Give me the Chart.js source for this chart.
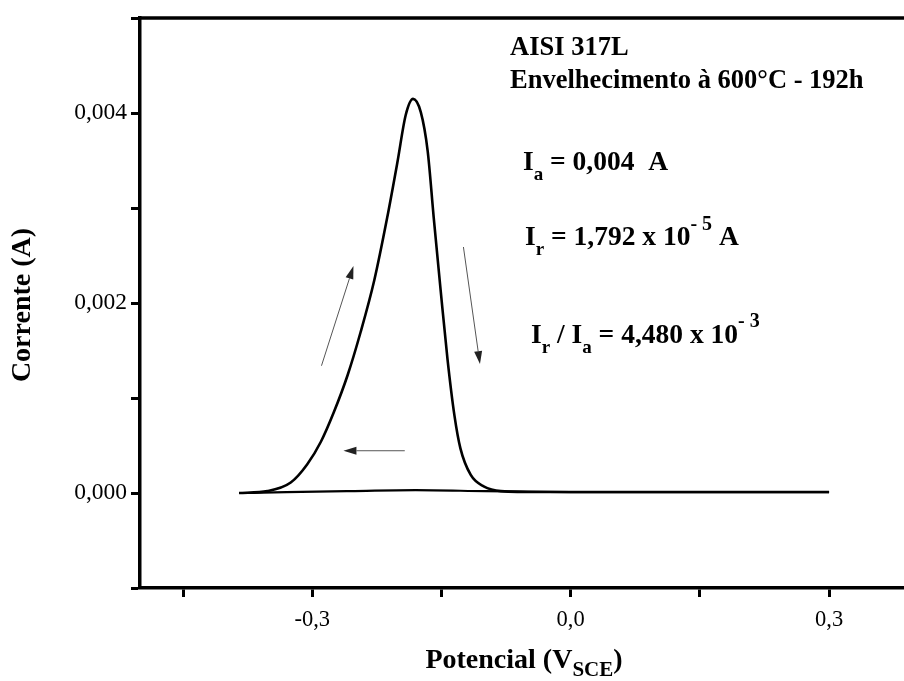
<!DOCTYPE html>
<html>
<head>
<meta charset="utf-8">
<script src="https://cdn.jsdelivr.net/npm/chart.js@4.4.1/dist/chart.umd.min.js"></script>
<style>
  html, body { margin: 0; padding: 0; background: #fff; }
</style>
</head>
<body>
<canvas id="chart" width="904" height="681"></canvas>
<script>
// potentiodynamic curve (V_SCE, A)
const forwardPotential = [-0.385, -0.352, -0.325, -0.306, -0.290, -0.275, -0.259, -0.244, -0.228, -0.213, -0.201, -0.1915, -0.183, -0.174, -0.166, -0.159, -0.151, -0.143, -0.135, -0.128, -0.116, -0.101, -0.081, -0.035, 0.05, 0.15, 0.30];
const forwardCurrent = [0.0, 0.00002, 0.00011, 0.00030, 0.00054, 0.00085, 0.00124, 0.00169, 0.00224, 0.00290, 0.00349, 0.00398, 0.00415, 0.00401, 0.00360, 0.00290, 0.00214, 0.00141, 0.00082, 0.00047, 0.00019, 0.00007, 0.00002, 0.00001, 0.00001, 0.00001, 0.00001];
const reversePotential = [0.30, 0.15, 0.0, -0.10, -0.18, -0.26, -0.33, -0.385];
const reverseCurrent = [0.00001, 0.00001, 0.00001, 0.00002, 0.00003, 0.00002, 0.00001, 0.0];

const xMajorTicks = [-0.3, 0.0, 0.3];
const yMajorTicks = [0.0, 0.002, 0.004];

// scan direction arrows (start / end, data units)
const arrowStart = [[-0.2893, 0.00134], [-0.1245, 0.00259], [-0.1926, 0.000445]];
const arrowEnd = [[-0.2522, 0.00239], [-0.1053, 0.001357], [-0.2638, 0.000445]];

const serif = '"Liberation Serif", "Times New Roman", serif';

const toPoints = (xs, ys) => xs.map((x, i) => ({ x: x, y: ys[i] }));
const isMajor = (v, list) => list.some((m) => Math.abs(m - v) < 1e-9);
const comma = (v, d) => (Math.abs(v) < 1e-9 ? 0 : v).toFixed(d).replace(".", ",");

function drawRuns(ctx, x, y, runs) {
  runs.forEach((r) => {
    ctx.font = "bold " + r.size + "px " + serif;
    ctx.fillText(r.t, x, y + (r.dy || 0));
    x += ctx.measureText(r.t).width;
  });
  return x;
}

function runsWidth(ctx, runs) {
  let w = 0;
  runs.forEach((r) => {
    ctx.font = "bold " + r.size + "px " + serif;
    w += ctx.measureText(r.t).width;
  });
  return w;
}

const frame = {
  id: "frame",
  afterDraw(chart) {
    const ctx = chart.ctx;
    const a = chart.chartArea;
    ctx.save();
    ctx.strokeStyle = "#000";
    ctx.lineWidth = 3.5;
    ctx.beginPath();
    ctx.moveTo(a.left, a.top);
    ctx.lineTo(a.right, a.top);
    ctx.stroke();
    ctx.restore();
  },
};

const arrows = {
  id: "arrows",
  afterDatasetsDraw(chart) {
    const ctx = chart.ctx;
    const xs = chart.scales.x;
    const ys = chart.scales.y;
    ctx.save();
    ctx.strokeStyle = "#555";
    ctx.fillStyle = "#222";
    ctx.lineWidth = 1;
    arrowStart.forEach((s, i) => {
      const x0 = xs.getPixelForValue(s[0]);
      const y0 = ys.getPixelForValue(s[1]);
      const x1 = xs.getPixelForValue(arrowEnd[i][0]);
      const y1 = ys.getPixelForValue(arrowEnd[i][1]);
      const ang = Math.atan2(y1 - y0, x1 - x0);
      const len = 13;
      const half = 4;
      const bx = x1 - len * Math.cos(ang);
      const by = y1 - len * Math.sin(ang);
      ctx.beginPath();
      ctx.moveTo(x0, y0);
      ctx.lineTo(bx, by);
      ctx.stroke();
      ctx.beginPath();
      ctx.moveTo(x1, y1);
      ctx.lineTo(bx + half * Math.sin(ang), by - half * Math.cos(ang));
      ctx.lineTo(bx - half * Math.sin(ang), by + half * Math.cos(ang));
      ctx.closePath();
      ctx.fill();
    });
    ctx.restore();
  },
};

const labels = {
  id: "labels",
  afterDraw(chart) {
    const ctx = chart.ctx;
    ctx.save();
    ctx.fillStyle = "#000";
    ctx.textAlign = "left";
    ctx.textBaseline = "alphabetic";

    drawRuns(ctx, 510, 55, [{ t: "AISI 317L", size: 26.5 }]);
    drawRuns(ctx, 510, 88, [{ t: "Envelhecimento à 600°C - 192h", size: 26.5 }]);

    drawRuns(ctx, 523, 170, [
      { t: "I", size: 27.5 },
      { t: "a", size: 19, dy: 10 },
      { t: " = 0,004  A", size: 27.5 },
    ]);
    drawRuns(ctx, 525, 245, [
      { t: "I", size: 27.5 },
      { t: "r", size: 19, dy: 10 },
      { t: " = 1,792 x 10", size: 27.5 },
      { t: "- 5", size: 20, dy: -15 },
      { t: " A", size: 27.5 },
    ]);
    drawRuns(ctx, 531, 343, [
      { t: "I", size: 27.5 },
      { t: "r", size: 19, dy: 10 },
      { t: " / I", size: 27.5 },
      { t: "a", size: 19, dy: 10 },
      { t: " = 4,480 x 10", size: 27.5 },
      { t: "- 3", size: 20, dy: -16 },
    ]);

    // axis titles
    const xTitle = [
      { t: "Potencial (V", size: 28 },
      { t: "SCE", size: 21, dy: 8 },
      { t: ")", size: 28 },
    ];
    const cx = (chart.chartArea.left + chart.chartArea.right) / 2;
    drawRuns(ctx, cx - runsWidth(ctx, xTitle) / 2 + 2, 668, xTitle);

    ctx.translate(23, 305);
    ctx.rotate(-Math.PI / 2);
    ctx.textAlign = "center";
    ctx.textBaseline = "middle";
    ctx.font = "bold 28px " + serif;
    ctx.fillText("Corrente (A)", 0, 0);
    ctx.restore();
  },
};

new Chart(document.getElementById("chart"), {
  type: "line",
  data: {
    datasets: [
      {
        data: toPoints(forwardPotential, forwardCurrent),
        borderColor: "#000",
        borderWidth: 2.6,
        pointRadius: 0,
        cubicInterpolationMode: "monotone",
      },
      {
        data: toPoints(reversePotential, reverseCurrent),
        borderColor: "#000",
        borderWidth: 2.2,
        pointRadius: 0,
        tension: 0.3,
      },
    ],
  },
  options: {
    responsive: false,
    animation: false,
    layout: { padding: { top: 14, left: 0, right: 0, bottom: 0 } },
    plugins: {
      legend: { display: false },
      tooltip: { enabled: false },
    },
    scales: {
      x: {
        type: "linear",
        min: -0.5,
        max: 0.387,
        afterFit: (s) => { s.height = 93; },
        border: { color: "#000", width: 3.5 },
        grid: { drawOnChartArea: false, tickLength: 9, tickWidth: 3, tickColor: "#000" },
        ticks: {
          stepSize: 0.15,
          includeBounds: false,
          padding: 10,
          color: "#000",
          maxRotation: 0,
          autoSkip: false,
          font: { family: serif, size: 22.5 },
          callback: (v) => (isMajor(v, xMajorTicks) ? comma(v, 1) : ""),
        },
      },
      y: {
        min: -0.001,
        max: 0.005,
        afterFit: (s) => { s.width = 140; },
        border: { color: "#000", width: 3.5 },
        grid: { drawOnChartArea: false, tickLength: 9, tickWidth: 3, tickColor: "#000" },
        ticks: {
          stepSize: 0.001,
          padding: 4,
          color: "#000",
          autoSkip: false,
          font: { family: serif, size: 23.5 },
          callback: (v) => (isMajor(v, yMajorTicks) ? comma(v, 3) : ""),
        },
      },
    },
  },
  plugins: [frame, arrows, labels],
});
</script>
</body>
</html>
